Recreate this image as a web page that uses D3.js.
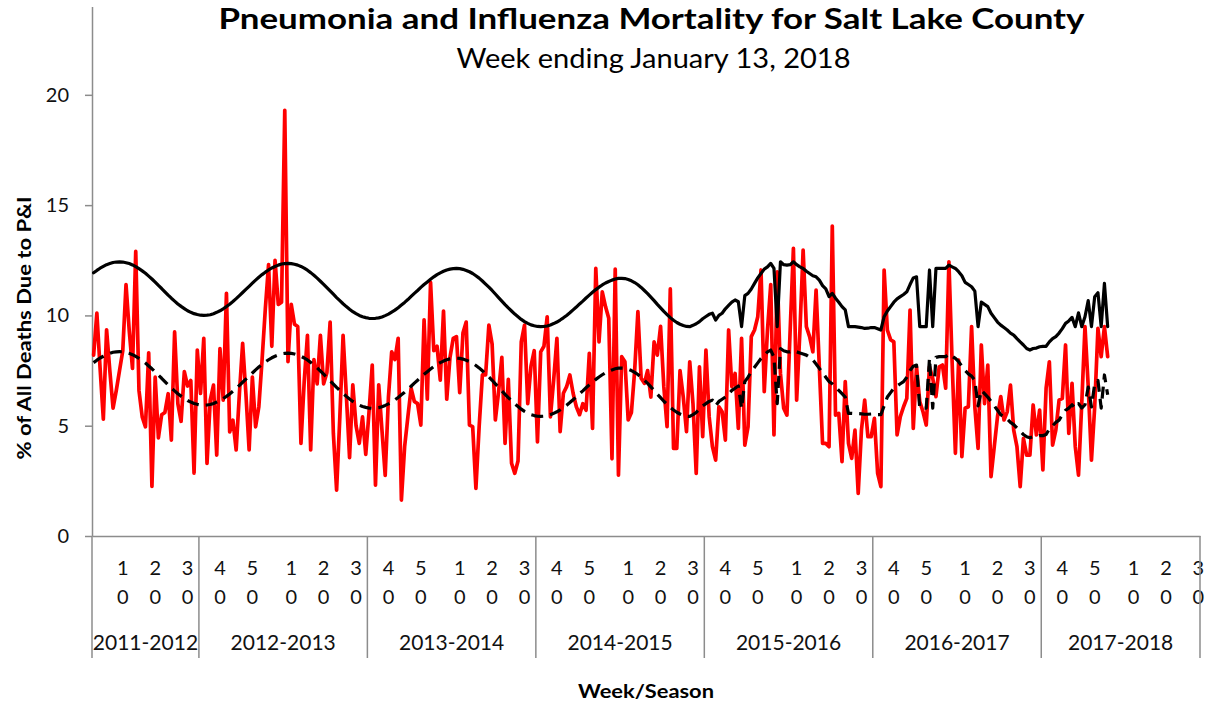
<!DOCTYPE html>
<html>
<head>
<meta charset="utf-8">
<script src="https://cdn.jsdelivr.net/npm/d3@7"></script>
<style>
  body { margin: 0; background: #fff; }
  svg { display: block; }
</style>
</head>
<body>
<svg id="chart" width="1214" height="706"></svg>
<script>
// Flu seasons on the category axis and the MMWR week each one starts at
const seasons = ["2011-2012", "2012-2013", "2013-2014", "2014-2015", "2015-2016", "2016-2017", "2017-2018"];
const seasonFirstWeek = [1, 34, 34, 34, 34, 34, 34];
const seasonWeekCount = [33, 52, 52, 52, 52, 52, 49];
const labelledWeeks = [10, 20, 30, 40, 50];
const yTicks = [0, 5, 10, 15, 20];

// Weekly % of all deaths due to pneumonia & influenza
const pctPI = [
  8.2, 10.1, 7.6, 5.3, 9.35, 7.5, 5.8, 6.6, 7.5, 8.4,
  11.4, 9.3, 7.6, 12.9, 6.6, 5.4, 4.95, 8.3, 2.25, 7.2,
  4.45, 5.5, 5.6, 6.45, 4.35, 9.25, 6.0, 5.2, 7.45, 6.8,
  7.05, 2.85, 8.43,
  6.46, 8.96, 3.29, 6.16, 6.84, 3.67, 8.5, 6.16, 11.0, 4.72,
  5.25, 3.9, 6.46, 8.73, 6.46, 3.9, 7.2, 4.95, 5.86, 8.0,
  10.3, 12.3, 8.6, 12.5, 10.5, 10.6, 19.3, 7.9, 10.5, 9.6,
  9.5, 4.2, 7.0, 9.1, 3.9, 8.0, 6.9, 9.1, 6.9, 7.4,
  9.7, 4.65, 2.08, 5.4, 9.1, 6.4, 3.55, 6.85, 5.0, 4.2,
  5.4, 3.7,
  5.6, 7.75, 2.3, 6.85, 4.8, 2.75, 6.3, 8.35, 8.0, 8.96,
  1.63, 4.05, 5.4, 6.7, 6.1, 6.0, 5.03, 9.8, 6.2, 11.5,
  8.4, 8.6, 7.07, 10.2, 6.2, 8.1, 8.96, 9.04, 6.5, 9.2,
  9.7, 5.03, 4.96, 2.16, 4.96, 7.3, 7.3, 9.56, 8.7, 5.26,
  6.54, 8.1, 4.2, 7.1, 3.3, 2.84, 3.4, 8.8, 9.56, 6.0,
  7.7, 8.4,
  4.27, 8.35, 8.6, 9.94, 5.4, 7.07, 8.96, 4.73, 6.47, 6.77,
  7.3, 6.47, 5.86, 5.5, 6.0, 5.7, 8.28, 4.88, 12.13, 8.8,
  11.07, 10.4, 9.87, 3.5, 12.1, 2.76, 8.13, 7.9, 5.26, 5.6,
  7.5, 10.17, 7.15, 6.92, 7.5, 6.3, 8.8, 8.2, 9.5, 6.77,
  4.96, 11.2, 3.97, 3.97, 7.5, 6.3, 4.73, 7.9, 6.0, 2.84,
  7.67, 4.5,
  8.43, 5.4, 4.05, 3.44, 5.86, 5.63, 4.35, 9.34, 6.77, 7.37,
  4.88, 8.96, 4.12, 4.96, 9.04, 9.34, 9.94, 12.06, 6.54, 9.34,
  11.4, 4.58, 11.98, 7.37, 5.79, 5.48, 9.34, 13.04, 6.16, 9.26,
  12.96, 9.49, 9.04, 8.35, 11.15, 7.67, 4.2, 4.2, 4.05, 14.05,
  5.48, 5.56, 3.37, 7.0, 4.2, 3.52, 4.8, 1.93, 4.8, 6.16,
  4.5, 4.5,
  5.33, 2.84, 2.24, 12.06, 9.34, 8.9, 8.8, 4.58, 5.41, 5.86,
  6.24, 10.24, 4.88, 7.67, 6.09, 5.63, 5.03, 7.67, 7.15, 6.32,
  7.67, 7.75, 6.7, 12.43, 7.83, 3.75, 7.98, 3.6, 5.79, 5.86,
  9.49, 5.86, 3.97, 8.66, 6.0, 7.75, 2.69, 4.05, 5.41, 6.32,
  5.26, 5.63, 6.84, 4.8, 4.05, 2.24, 4.43, 3.67, 3.67, 5.94,
  4.58, 5.71,
  3.0, 6.7, 7.9, 4.12, 4.8, 6.16, 6.24, 8.66, 4.65, 6.92,
  4.05, 2.76, 6.0, 9.49, 6.77, 3.44, 5.86, 9.41, 8.13, 9.49,
  8.13
];

// Epidemic threshold
const epidemicThreshold = [
  11.93, 12.04, 12.14, 12.22, 12.30, 12.35, 12.40, 12.42, 12.43, 12.42,
  12.39, 12.35, 12.29, 12.21, 12.12, 12.02, 11.91, 11.78, 11.65, 11.51,
  11.36, 11.22, 11.07, 10.92, 10.78, 10.65, 10.52, 10.41, 10.31, 10.21,
  10.14, 10.08, 10.04, 10.01, 10.00, 10.01, 10.03, 10.08, 10.14, 10.21,
  10.30, 10.40, 10.51, 10.63, 10.76, 10.90, 11.04, 11.18, 11.32, 11.46,
  11.60, 11.73, 11.85, 11.96, 12.06, 12.15, 12.22, 12.28, 12.33, 12.35,
  12.36, 12.35, 12.32, 12.28, 12.22, 12.14, 12.05, 11.94, 11.82, 11.69,
  11.55, 11.41, 11.26, 11.11, 10.96, 10.81, 10.67, 10.53, 10.40, 10.28,
  10.17, 10.08, 10.00, 9.94, 9.90, 9.87, 9.86, 9.87, 9.89, 9.93,
  9.99, 10.06, 10.15, 10.24, 10.35, 10.47, 10.59, 10.72, 10.86, 11.00,
  11.13, 11.27, 11.40, 11.52, 11.64, 11.75, 11.85, 11.93, 12.00, 12.06,
  12.10, 12.12, 12.13, 12.12, 12.09, 12.04, 11.98, 11.90, 11.80, 11.69,
  11.56, 11.42, 11.28, 11.13, 10.97, 10.81, 10.65, 10.49, 10.34, 10.20,
  10.06, 9.94, 9.82, 9.72, 9.64, 9.57, 9.53, 9.50, 9.49, 9.50,
  9.52, 9.57, 9.63, 9.70, 9.79, 9.89, 10.00, 10.12, 10.25, 10.38,
  10.52, 10.65, 10.79, 10.92, 11.05, 11.17, 11.28, 11.38, 11.47, 11.54,
  11.60, 11.65, 11.68, 11.68, 11.67, 11.63, 11.57, 11.49, 11.39, 11.27,
  11.13, 10.99, 10.83, 10.67, 10.50, 10.34, 10.18, 10.04, 9.90, 9.78,
  9.68, 9.60, 9.54, 9.50, 9.49, 9.55, 9.62, 9.72, 9.85, 9.95,
  10.05, 10.10, 9.79, 10.00, 10.10, 10.30, 10.45, 10.60, 10.70, 10.62,
  9.49, 10.90, 11.00, 11.20, 11.45, 11.70, 11.90, 12.10, 12.20, 12.36,
  12.13, 9.49, 12.43, 12.30, 12.28, 12.30, 12.43, 12.30, 12.20, 12.13,
  12.00, 11.90, 11.80, 11.75, 11.60, 11.35, 11.20, 10.85, 11.00, 10.78,
  10.60, 10.40, 10.25, 9.49, 9.49, 9.49, 9.47, 9.45, 9.41, 9.42,
  9.45, 9.45, 9.40, 9.34, 9.94, 10.20, 10.40, 10.60, 10.75, 10.85,
  10.95, 11.07, 11.40, 11.70, 11.75, 9.49, 9.49, 9.49, 12.06, 9.49,
  12.13, 12.13, 12.13, 12.13, 12.28, 12.20, 12.13, 11.98, 11.80, 11.50,
  11.40, 11.30, 11.10, 9.49, 10.60, 10.50, 10.40, 10.10, 9.90, 9.70,
  9.56, 9.45, 9.34, 9.20, 9.11, 8.95, 8.80, 8.66, 8.50, 8.43,
  8.50, 8.52, 8.58, 8.60, 8.60, 8.80, 8.95, 9.04, 9.20, 9.40,
  9.64, 9.75, 9.91, 9.49, 10.12, 9.49, 9.94, 10.67, 9.49, 10.85,
  11.03, 9.49, 11.45, 9.49
];

// Seasonal baseline
const seasonalBaseline = [
  7.86, 7.97, 8.07, 8.15, 8.23, 8.28, 8.33, 8.35, 8.36, 8.35,
  8.32, 8.28, 8.22, 8.14, 8.05, 7.95, 7.84, 7.71, 7.58, 7.44,
  7.29, 7.15, 7.00, 6.85, 6.71, 6.58, 6.45, 6.34, 6.24, 6.14,
  6.07, 6.01, 5.97, 5.94, 5.93, 5.94, 5.96, 6.01, 6.07, 6.14,
  6.23, 6.33, 6.44, 6.56, 6.69, 6.83, 6.97, 7.11, 7.25, 7.39,
  7.53, 7.66, 7.78, 7.89, 7.99, 8.08, 8.15, 8.21, 8.26, 8.28,
  8.29, 8.28, 8.25, 8.21, 8.15, 8.07, 7.98, 7.87, 7.75, 7.62,
  7.48, 7.34, 7.19, 7.04, 6.89, 6.74, 6.60, 6.46, 6.33, 6.21,
  6.10, 6.01, 5.93, 5.87, 5.83, 5.80, 5.79, 5.80, 5.82, 5.86,
  5.92, 5.99, 6.08, 6.17, 6.28, 6.40, 6.52, 6.65, 6.79, 6.93,
  7.06, 7.20, 7.33, 7.45, 7.57, 7.68, 7.78, 7.86, 7.93, 7.99,
  8.03, 8.05, 8.06, 8.05, 8.02, 7.97, 7.91, 7.83, 7.73, 7.62,
  7.49, 7.35, 7.21, 7.06, 6.90, 6.74, 6.58, 6.42, 6.27, 6.13,
  5.99, 5.87, 5.75, 5.65, 5.57, 5.50, 5.46, 5.43, 5.42, 5.43,
  5.45, 5.50, 5.56, 5.63, 5.72, 5.82, 5.93, 6.05, 6.18, 6.31,
  6.45, 6.58, 6.72, 6.85, 6.98, 7.10, 7.21, 7.31, 7.40, 7.47,
  7.53, 7.58, 7.61, 7.61, 7.60, 7.56, 7.50, 7.42, 7.32, 7.20,
  7.06, 6.92, 6.76, 6.60, 6.43, 6.27, 6.11, 5.97, 5.83, 5.71,
  5.61, 5.53, 5.47, 5.43, 5.42, 5.50, 5.60, 5.75, 5.90, 6.00,
  6.10, 6.16, 5.90, 6.10, 6.20, 6.30, 6.45, 6.60, 6.70, 6.80,
  5.79, 7.00, 7.20, 7.45, 7.65, 7.85, 8.05, 8.20, 8.35, 8.43,
  8.10, 6.00, 8.50, 8.40, 8.35, 8.35, 8.40, 8.35, 8.30, 8.25,
  8.20, 8.10, 7.98, 7.80, 7.60, 7.40, 7.20, 7.00, 6.90, 6.75,
  6.60, 6.45, 6.30, 5.56, 5.56, 5.55, 5.55, 5.54, 5.52, 5.52,
  5.53, 5.54, 5.50, 5.50, 5.90, 6.30, 6.50, 6.70, 6.80, 6.90,
  7.00, 7.20, 7.50, 7.70, 7.75, 5.80, 5.80, 5.80, 8.05, 5.80,
  8.10, 8.13, 8.13, 8.13, 8.25, 8.15, 8.05, 7.90, 7.70, 7.50,
  7.35, 7.25, 7.05, 5.90, 6.60, 6.45, 6.30, 6.10, 5.90, 5.70,
  5.50, 5.40, 5.30, 5.15, 5.05, 4.90, 4.75, 4.60, 4.50, 4.45,
  4.50, 4.50, 4.55, 4.55, 4.60, 4.85, 5.00, 5.15, 5.25, 5.50,
  5.70, 5.80, 5.95, 5.80, 6.00, 5.80, 5.95, 6.75, 5.85, 6.90,
  7.05, 5.80, 7.30, 6.40
];

// One category per week, grouped by season
const categories = [];
seasons.forEach((season, si) => {
  for (let k = 0; k < seasonWeekCount[si]; k++) {
    const week = ((seasonFirstWeek[si] - 1 + k) % 52) + 1;
    categories.push({ season, week, key: season + "|" + week });
  }
});

const FONT = "Lato, 'Open Sans', sans-serif";
const AXIS_GREY = "#8c8c8c";

const svg = d3.select("#chart");

const x = d3.scaleBand()
  .domain(categories.map(c => c.key))
  .range([92, 1200])
  .paddingInner(0)
  .paddingOuter(0);

const y = d3.scaleLinear().domain([0, 24]).range([536, 6.6]);

const cx = i => x(categories[i].key) + x.bandwidth() / 2;

// Titles
svg.append("text")
  .attr("x", 651.5).attr("y", 29)
  .attr("text-anchor", "middle")
  .attr("font-family", FONT).attr("font-weight", "bold").attr("font-size", 29)
  .attr("textLength", 866).attr("lengthAdjust", "spacingAndGlyphs")
  .attr("fill", "#000")
  .text("Pneumonia and Influenza Mortality for Salt Lake County");

svg.append("text")
  .attr("x", 653.5).attr("y", 68)
  .attr("text-anchor", "middle")
  .attr("font-family", FONT).attr("font-size", 26)
  .attr("textLength", 394).attr("lengthAdjust", "spacingAndGlyphs")
  .attr("fill", "#000")
  .text("Week ending January 13, 2018");

// Y axis
const gy = svg.append("g")
  .attr("transform", "translate(92,0)")
  .call(d3.axisLeft(y).tickValues(yTicks).tickSize(7).tickSizeOuter(0).tickPadding(16));
gy.select(".domain").attr("stroke", AXIS_GREY).attr("stroke-width", 1.5);
gy.selectAll(".tick line").attr("stroke", AXIS_GREY).attr("stroke-width", 1.5);
gy.selectAll(".tick text")
  .attr("font-family", FONT).attr("font-size", 20).attr("fill", "#111");

svg.append("text")
  .attr("transform", "translate(31,328) rotate(-90)")
  .attr("text-anchor", "middle")
  .attr("font-family", FONT).attr("font-weight", "bold").attr("font-size", 18)
  .attr("textLength", 263).attr("lengthAdjust", "spacingAndGlyphs")
  .attr("fill", "#000")
  .text("% of All Deaths Due to P&I");

// X axis: week labels written as two stacked digits
const tickKeys = categories.filter(c => labelledWeeks.includes(c.week)).map(c => c.key);
const gx = svg.append("g")
  .attr("transform", `translate(0,${y(0)})`)
  .call(d3.axisBottom(x).tickValues(tickKeys).tickSize(0).tickSizeOuter(0)
    .tickFormat(k => String(k.split("|")[1])));
gx.select(".domain").attr("stroke", AXIS_GREY).attr("stroke-width", 1.5);
gx.selectAll(".tick text").each(function(k) {
  const label = k.split("|")[1];
  const t = d3.select(this);
  t.text(null).attr("dy", null).attr("y", null)
    .attr("font-family", FONT).attr("font-size", 20).attr("fill", "#111");
  t.append("tspan").attr("x", 0).attr("y", 39).text(label[0]);
  t.append("tspan").attr("x", 0).attr("y", 68).text(label[1]);
});

// Season separators and season names
const seasonStarts = seasons.map(s => x(categories.find(c => c.season === s).key));
const seasonEdges = seasonStarts.concat([x.range()[1]]);
svg.append("g").selectAll("line")
  .data(seasonEdges)
  .join("line")
  .attr("x1", d => d).attr("x2", d => d)
  .attr("y1", y(0)).attr("y2", 658)
  .attr("stroke", AXIS_GREY).attr("stroke-width", 1.5);

svg.append("g").selectAll("text")
  .data(seasons)
  .join("text")
  .attr("x", (d, i) => (seasonEdges[i] + seasonEdges[i + 1]) / 2)
  .attr("y", 650)
  .attr("text-anchor", "middle")
  .attr("font-family", FONT).attr("font-size", 21).attr("fill", "#111")
  .text(d => d);

svg.append("text")
  .attr("x", 646).attr("y", 698)
  .attr("text-anchor", "middle")
  .attr("font-family", FONT).attr("font-weight", "bold").attr("font-size", 19)
  .attr("textLength", 136).attr("lengthAdjust", "spacingAndGlyphs")
  .attr("fill", "#000")
  .text("Week/Season");

// Series
const line = d3.line().x((d, i) => cx(i)).y(d => y(d));

svg.append("path")
  .datum(pctPI)
  .attr("d", line)
  .attr("fill", "none").attr("stroke", "#ff0000")
  .attr("stroke-width", 3.7).attr("stroke-linejoin", "round").attr("stroke-linecap", "round");

svg.append("path")
  .datum(seasonalBaseline)
  .attr("d", line)
  .attr("fill", "none").attr("stroke", "#000")
  .attr("stroke-width", 3.2).attr("stroke-dasharray", "12,7")
  .attr("stroke-linejoin", "round");

svg.append("path")
  .datum(epidemicThreshold)
  .attr("d", line)
  .attr("fill", "none").attr("stroke", "#000")
  .attr("stroke-width", 3.2).attr("stroke-linejoin", "round").attr("stroke-linecap", "round");
</script>
</body>
</html>
